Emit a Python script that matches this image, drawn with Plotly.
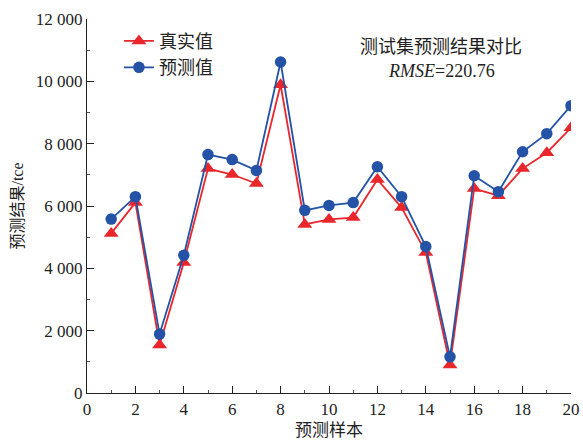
import plotly.graph_objects as go

# Test-set samples and energy consumption (tce)
samples = list(range(1, 21))
actual = [5120, 6110, 1540, 4190, 7200, 7010, 6720, 9890, 5410, 5570,
          5630, 6850, 5950, 4510, 900, 6560, 6330, 7200, 7710, 8510]
predicted = [5580, 6300, 1890, 4420, 7650, 7490, 7140, 10620, 5860, 6020,
             6110, 7260, 6300, 4700, 1160, 6970, 6460, 7740, 8320, 9220]

y_ticks = [0, 2000, 4000, 6000, 8000, 10000, 12000]
y_tick_text = ["0", "2 000", "4 000", "6 000", "8 000", "10 000", "12 000"]
x_ticks = list(range(0, 21, 2))

RED = "#e8262c"
BLUE = "#2352a6"
FONT = "'Times New Roman', 'Liberation Serif', 'Noto Sans CJK SC', serif"
INK = "#222"

fig = go.Figure()
fig.add_trace(go.Scatter(
    x=samples, y=actual, name="真实值", mode="lines+markers",
    line=dict(color=RED, width=1.8),
    marker=dict(symbol="triangle-up", size=13, color=RED),
))
fig.add_trace(go.Scatter(
    x=samples, y=predicted, name="预测值", mode="lines+markers",
    line=dict(color=BLUE, width=1.8),
    marker=dict(symbol="circle", size=11.5, color=BLUE),
))

axis_common = dict(
    showgrid=False, zeroline=False, showline=True, automargin=False,
    linecolor=INK, linewidth=1.2,
    ticks="inside", ticklen=7, tickwidth=1, tickcolor=INK,
    tickfont=dict(family=FONT, size=17, color=INK),
)

fig.update_xaxes(
    range=[0, 20], tickvals=x_ticks,
    minor=dict(ticks="inside", dtick=1, tick0=0, ticklen=3, tickcolor="#555"),
    title=dict(text="预测样本", font=dict(family=FONT, size=17, color=INK), standoff=6),
    **axis_common,
)
fig.update_yaxes(
    range=[0, 12000], tickvals=y_ticks, ticktext=y_tick_text,
    minor=dict(ticks="inside", dtick=1000, tick0=0, ticklen=3, tickcolor="#555"),
    title=dict(text="预测结果/tce", font=dict(family=FONT, size=16, color=INK), standoff=8),
    **axis_common,
)

fig.add_annotation(
    x=0.732, y=0.924, xref="paper", yref="paper", showarrow=False,
    xanchor="center", yanchor="middle",
    text="测试集预测结果对比", font=dict(family=FONT, size=18, color=INK),
)
fig.add_annotation(
    x=0.732, y=0.86, xref="paper", yref="paper", showarrow=False,
    xanchor="center", yanchor="middle",
    text="<i>RMSE</i>=220.76", font=dict(family=FONT, size=18, color=INK),
)

fig.update_layout(
    width=583, height=441,
    margin=dict(l=87, r=12, t=19, b=48),
    paper_bgcolor="white", plot_bgcolor="white",
    font=dict(family=FONT),
    legend=dict(
        x=0.066, y=0.99, xanchor="left", yanchor="top",
        bgcolor="rgba(0,0,0,0)", font=dict(family=FONT, size=18, color=INK),
        itemwidth=30, tracegroupgap=0,
    ),
)

fig.write_html("out.html")
